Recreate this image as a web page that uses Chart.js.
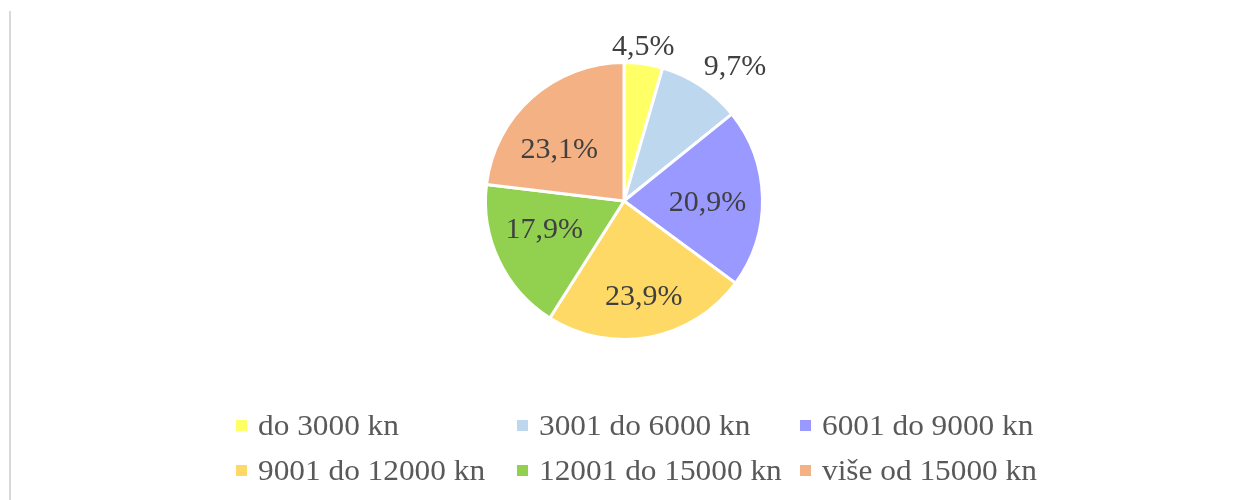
<!DOCTYPE html>
<html>
<head>
<meta charset="utf-8">
<script src="https://cdn.jsdelivr.net/npm/chart.js@4/dist/chart.umd.min.js"></script>
<style>
    body { margin: 0; background: #fff; }
    .wrap { position: relative; width: 1238px; height: 500px; overflow: hidden; }
    .frame { position: absolute; left: 9px; top: 11px; width: 2px; height: 489px; background: #d9d9d9; }
    #chartBox { position: absolute; left: 0; top: 0; width: 1238px; height: 500px; }
    #legend { position: absolute; left: 0; top: 0; width: 1238px; height: 500px; pointer-events: none; }
    .leg-item { position: absolute; display: flex; align-items: center; height: 40px; }
    .leg-box { width: 11px; height: 11px; margin-right: 11px; }
    .leg-text { font-family: "Liberation Serif", "Times New Roman", serif; font-size: 29px; color: #595959;
                white-space: nowrap; transform: scaleX(1.08); transform-origin: left center; }
</style>
</head>
<body>
<div class="wrap">
    <div class="frame"></div>
    <div id="chartBox"><canvas id="pieChart"></canvas></div>
    <div id="legend"></div>
</div>
<script>
const categories = ['do 3000 kn', '3001 do 6000 kn', '6001 do 9000 kn', '9001 do 12000 kn', '12001 do 15000 kn', 'više od 15000 kn'];
const shares = [4.5, 9.7, 20.9, 23.9, 17.9, 23.1];
const sliceColors = ['#ffff66', '#bdd7ee', '#9999ff', '#ffd966', '#92d050', '#f4b183'];

// pomak natpisa: udio polumjera i zakret (u stupnjevima) od sredine isječka
const labelRadius = [1.13, 1.27, 0.61, 0.72, 0.62, 0.60];
const labelShift = [-1, 6, 3, -1, 5.5, -10.5];

const pieLabels = {
    id: 'pieLabels',
    afterDatasetsDraw(chart) {
        const ctx = chart.ctx;
        const meta = chart.getDatasetMeta(0);
        ctx.save();
        ctx.font = '30px "Liberation Serif", "Times New Roman", serif';
        ctx.fillStyle = '#404040';
        ctx.textAlign = 'center';
        ctx.textBaseline = 'middle';
        meta.data.forEach((arc, i) => {
            const p = arc.getProps(['x', 'y', 'startAngle', 'endAngle', 'outerRadius'], true);
            const mid = (p.startAngle + p.endAngle) / 2 + labelShift[i] * Math.PI / 180;
            const r = (p.outerRadius - 1.5) * labelRadius[i];
            const txt = shares[i].toFixed(1).replace('.', ',') + '%';
            ctx.fillText(txt, p.x + Math.cos(mid) * r, p.y + Math.sin(mid) * r);
        });
        ctx.restore();
    }
};

const chart = new Chart(document.getElementById('pieChart'), {
    type: 'pie',
    data: {
        labels: categories,
        datasets: [{
            data: shares,
            backgroundColor: sliceColors,
            borderColor: '#ffffff',
            borderWidth: 3
        }]
    },
    options: {
        responsive: true,
        maintainAspectRatio: false,
        animation: false,
        radius: 138.5,
        layout: { padding: { left: 10, right: 0, top: 0, bottom: 98 } },
        plugins: {
            legend: { display: false },
            tooltip: { enabled: false }
        }
    },
    plugins: [pieLabels]
});

// legenda u tri stupca, dva reda
const legendEl = document.getElementById('legend');
const colX = [236, 517, 800];
const rowY = [405, 450];
const items = Chart.overrides.pie.plugins.legend.labels.generateLabels(chart);
legendEl.innerHTML = items.map((it, i) => `
    <div class="leg-item" style="left:${colX[i % 3]}px; top:${rowY[Math.floor(i / 3)]}px;">
        <div class="leg-box" style="background:${it.fillStyle};"></div>
        <div class="leg-text">${it.text}</div>
    </div>
`).join('');
</script>
</body>
</html>
